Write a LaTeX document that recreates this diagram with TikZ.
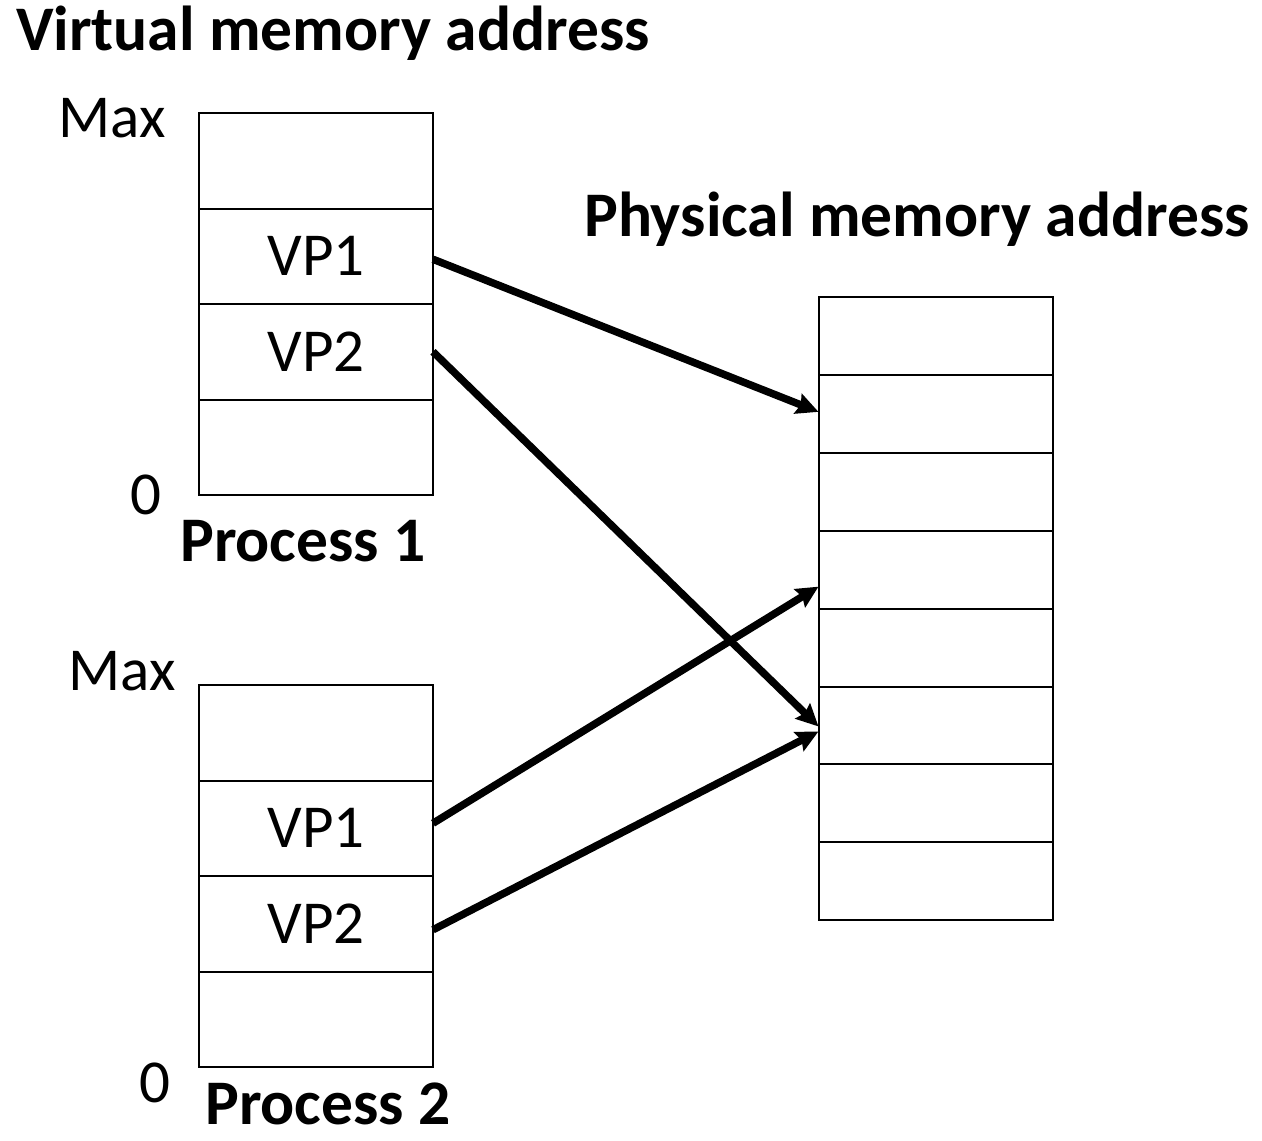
\documentclass[tikz,border=0pt]{standalone}
\usepackage{fontspec}
\setmainfont{Carlito}
\usetikzlibrary{arrows.meta}
\begin{document}
\begin{tikzpicture}[x=1pt,y=-1pt,
  cell/.style={draw,line width=2pt,minimum width=234pt,inner sep=0pt,outer sep=0pt,font=\fontsize{61}{66}\selectfont},
  vcell/.style={cell,minimum height=95.5pt},
  pcell/.style={cell,minimum height=77.9pt},
  lab/.style={inner sep=0pt,font=\fontsize{61}{66}\selectfont},
  title/.style={inner sep=0pt,font=\fontsize{63.5}{70}\selectfont\bfseries},
  arr/.style={line width=7.5pt,-{Stealth[length=22pt,width=21pt,inset=3pt]}}]
\useasboundingbox (0,0) rectangle (1262,1141);
% Process 1
\foreach \i/\t in {1/{},2/VP1,3/VP2,4/{}}{
  \node[vcell] (a\i) at (316,{113+95.5*(\i-0.5)}) {\t};
}
% Process 2
\foreach \i/\t in {1/{},2/VP1,3/VP2,4/{}}{
  \node[vcell] (b\i) at (316,{685+95.5*(\i-0.5)}) {\t};
}
% Physical
\foreach \i in {1,...,8}{
  \node[pcell] (p\i) at (935.5,{297+77.9*(\i-0.5)}) {};
}
\node[title] (t1) at (333,33) {Virtual memory address};
\node[title] (t2) at (917,219) {Physical memory address};
\node[lab,anchor=east] (m1) at (166,118) {Max};
\node[lab] (z1) at (146,495) {0};
\node[title] (n1) at (303,541) {Process 1};
\node[lab,anchor=east] (m2) at (176,671) {Max};
\node[lab] (z2) at (155,1083) {0};
\node[title] (n2) at (328,1104) {Process 2};
% arrows
\draw[arr] ([yshift=-3pt]a2.east) -- ([yshift=2pt]p2.west);
\draw[arr] (a3.east) -- ([yshift=-1pt]p6.west);
\draw[arr] ([yshift=5pt]b2.east) -- ([yshift=-17pt]p4.west);
\draw[arr] ([yshift=-6pt]b3.east) -- ([yshift=-6pt]p6.west);
\end{tikzpicture}
\end{document}
